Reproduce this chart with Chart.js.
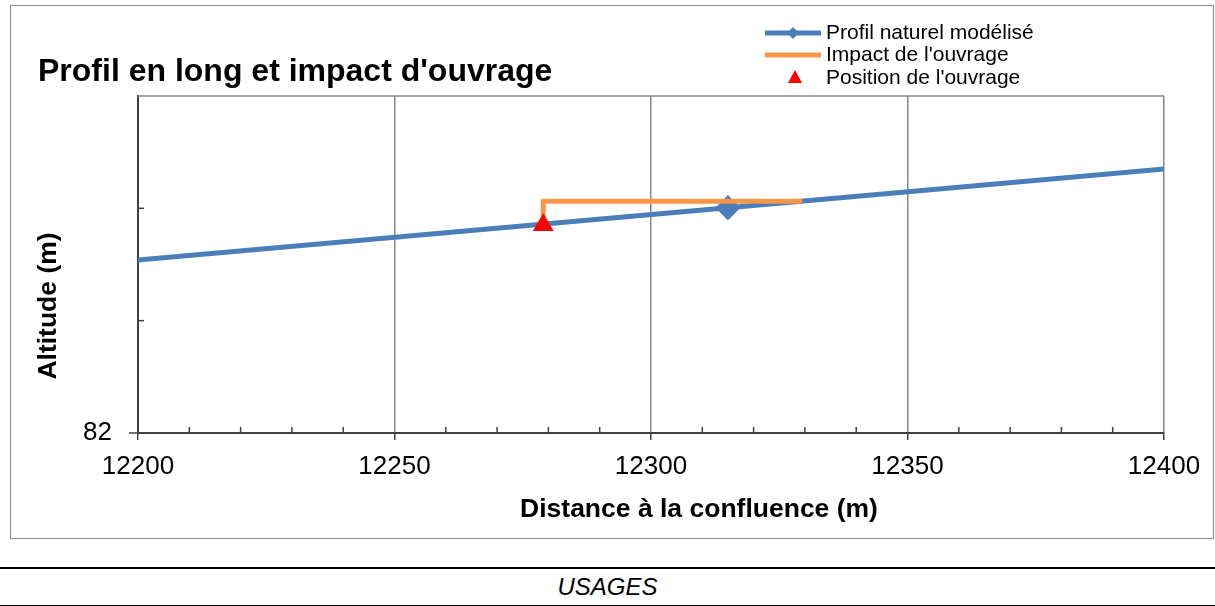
<!DOCTYPE html>
<html>
<head>
<meta charset="utf-8">
<script src="https://cdn.jsdelivr.net/npm/chart.js@4"></script>
<style>
  body { margin: 0; background: #fff; width: 1215px; height: 606px; position: relative; overflow: hidden; }
  #frame { position: absolute; left: 10px; top: 5px; width: 1202px; height: 532px; border: 1px solid #8c8c8c; }
  #chart { position: absolute; left: 0; top: 0; }
  #usages { position: absolute; left: 0; top: 567px; width: 1215px; height: 36px; border-top: 2px solid #000; border-bottom: 1px solid #000;
            font: italic 24px "Liberation Sans Narrow", "Liberation Sans", sans-serif; text-align: center; line-height: 36px; color: #000; }
</style>
</head>
<body>
<div id="frame"></div>
<canvas id="chart" width="1215" height="540"></canvas>
<div id="usages">USAGES</div>
<script>
// data
const profilX = [12150, 12315, 12450];
const profilY = [82.669, 83.003, 83.276];
const impactX = [12279, 12279, 12329.5];
const impactY = [82.930, 83.032, 83.032];
const ouvrageX = [12279];
const ouvrageY = [82.926];

const xMin = 12200, xMax = 12400, xStep = 50, xMinorStep = 10;
const yMin = 82, yMax = 83.5, yStep = 0.5;
const yTickLabels = ["82"];

const chartTitle = "Profil en long et impact d'ouvrage";
const xTitle = "Distance à la confluence (m)";
const yTitle = "Altitude (m)";

const FONT = "'Liberation Sans', Arial, sans-serif";

function toPoints(xs, ys) {
  return xs.map((x, i) => ({ x: x, y: ys[i] }));
}

// extra drawing: title, axis titles, minor ticks, legend
const decorations = {
  id: "decorations",
  afterDraw(chart) {
    const ctx = chart.ctx;
    const area = chart.chartArea;
    const xs = chart.scales.x;
    const ys = chart.scales.y;
    ctx.save();

    // top border of plot
    ctx.strokeStyle = "#868686";
    ctx.lineWidth = 1.5;
    ctx.beginPath();
    ctx.moveTo(area.left, area.top);
    ctx.lineTo(area.right, area.top);
    ctx.stroke();

    // minor ticks on x axis (inside)
    ctx.strokeStyle = "#404040";
    ctx.lineWidth = 1.5;
    for (let v = xMin + xMinorStep; v < xMax; v += xMinorStep) {
      if (v % xStep === 0) continue;
      const px = xs.getPixelForValue(v);
      ctx.beginPath();
      ctx.moveTo(px, area.bottom);
      ctx.lineTo(px, area.bottom - 6);
      ctx.stroke();
    }
    // y ticks
    for (let v = yMin; v < yMax; v += yStep) {
      const py = ys.getPixelForValue(v);
      ctx.beginPath();
      if (v === yMin) {
        ctx.moveTo(area.left - 9, py);
        ctx.lineTo(area.left, py);
      } else {
        ctx.moveTo(area.left, py);
        ctx.lineTo(area.left + 6, py);
      }
      ctx.stroke();
    }

    ctx.fillStyle = "#000";
    // chart title
    ctx.font = "bold 32px " + FONT;
    ctx.textAlign = "left";
    ctx.textBaseline = "middle";
    ctx.fillText(chartTitle, 38, 72);

    // axis titles
    ctx.font = "bold 26.5px " + FONT;
    ctx.textAlign = "center";
    ctx.fillText(xTitle, 699, 510);
    ctx.save();
    ctx.translate(49, 306);
    ctx.rotate(-Math.PI / 2);
    ctx.fillText(yTitle, 0, 0);
    ctx.restore();

    // legend
    const ds = chart.data.datasets;
    const rows = [33, 55, 78];
    ctx.font = "21px " + FONT;
    ctx.textAlign = "left";
    ds.forEach((d, i) => {
      const y = rows[i];
      if (d.showLine !== false) {
        ctx.strokeStyle = d.borderColor;
        ctx.lineWidth = 5;
        ctx.beginPath();
        ctx.moveTo(765, y);
        ctx.lineTo(821, y);
        ctx.stroke();
      }
      if (d.legendMarker) {
        ctx.fillStyle = d.pointBackgroundColor;
        ctx.beginPath();
        if (d.pointStyle === "triangle") {
          ctx.moveTo(795, y - 8);
          ctx.lineTo(802, y + 5);
          ctx.lineTo(788, y + 5);
        } else {
          ctx.moveTo(793, y - 6);
          ctx.lineTo(799, y);
          ctx.lineTo(793, y + 6);
          ctx.lineTo(787, y);
        }
        ctx.closePath();
        ctx.fill();
      }
      ctx.fillStyle = "#000";
      ctx.fillText(d.label, 826, y);
    });
    ctx.restore();
  }
};

new Chart(document.getElementById("chart"), {
  type: "line",
  data: {
    datasets: [{
      label: "Profil naturel modélisé",
      data: toPoints(profilX, profilY),
      borderColor: "#4a7ebb",
      backgroundColor: "#4a7ebb",
      pointBackgroundColor: "#4a7ebb",
      pointBorderColor: "#4a7ebb",
      borderWidth: 5,
      pointStyle: "rectRot",
      pointRadius: 9,
      legendMarker: true,
      order: 3
    }, {
      label: "Impact de l'ouvrage",
      data: toPoints(impactX, impactY),
      borderColor: "#f79646",
      backgroundColor: "#f79646",
      borderWidth: 5,
      borderJoinStyle: "round",
      pointRadius: 0,
      order: 2
    }, {
      label: "Position de l'ouvrage",
      data: toPoints(ouvrageX, ouvrageY),
      showLine: false,
      borderColor: "#ff0000",
      backgroundColor: "#ff0000",
      pointBackgroundColor: "#ff0000",
      pointBorderColor: "#ff0000",
      pointStyle: "triangle",
      pointRadius: 12,
      pointBorderWidth: 0,
      legendMarker: true,
      order: 1
    }]
  },
  options: {
    responsive: false,
    animation: false,
    devicePixelRatio: 1,
    layout: { padding: { top: 96, right: 51, left: 0, bottom: 0 } },
    plugins: { legend: { display: false }, tooltip: { enabled: false } },
    scales: {
      x: {
        type: "linear",
        min: xMin,
        max: xMax,
        afterFit: s => { s.height = 107; },
        ticks: {
          stepSize: xStep,
          color: "#000",
          padding: 11,
          font: { family: FONT, size: 26 },
          callback: v => String(v)
        },
        grid: { color: "#868686", lineWidth: 1.5, drawTicks: true, tickLength: 7, tickColor: "#404040", tickWidth: 1.5 },
        border: { display: true, color: "#404040", width: 2 }
      },
      y: {
        type: "linear",
        min: yMin,
        max: yMax,
        afterFit: s => { s.width = 138; },
        ticks: {
          stepSize: yStep,
          color: "#000",
          padding: 26,
          font: { family: FONT, size: 26 },
          callback: v => (yTickLabels.includes(String(v)) ? String(v) : "")
        },
        grid: { display: false, drawTicks: false },
        border: { display: true, color: "#404040", width: 2 }
      }
    }
  },
  plugins: [decorations]
});
</script>
</body>
</html>
